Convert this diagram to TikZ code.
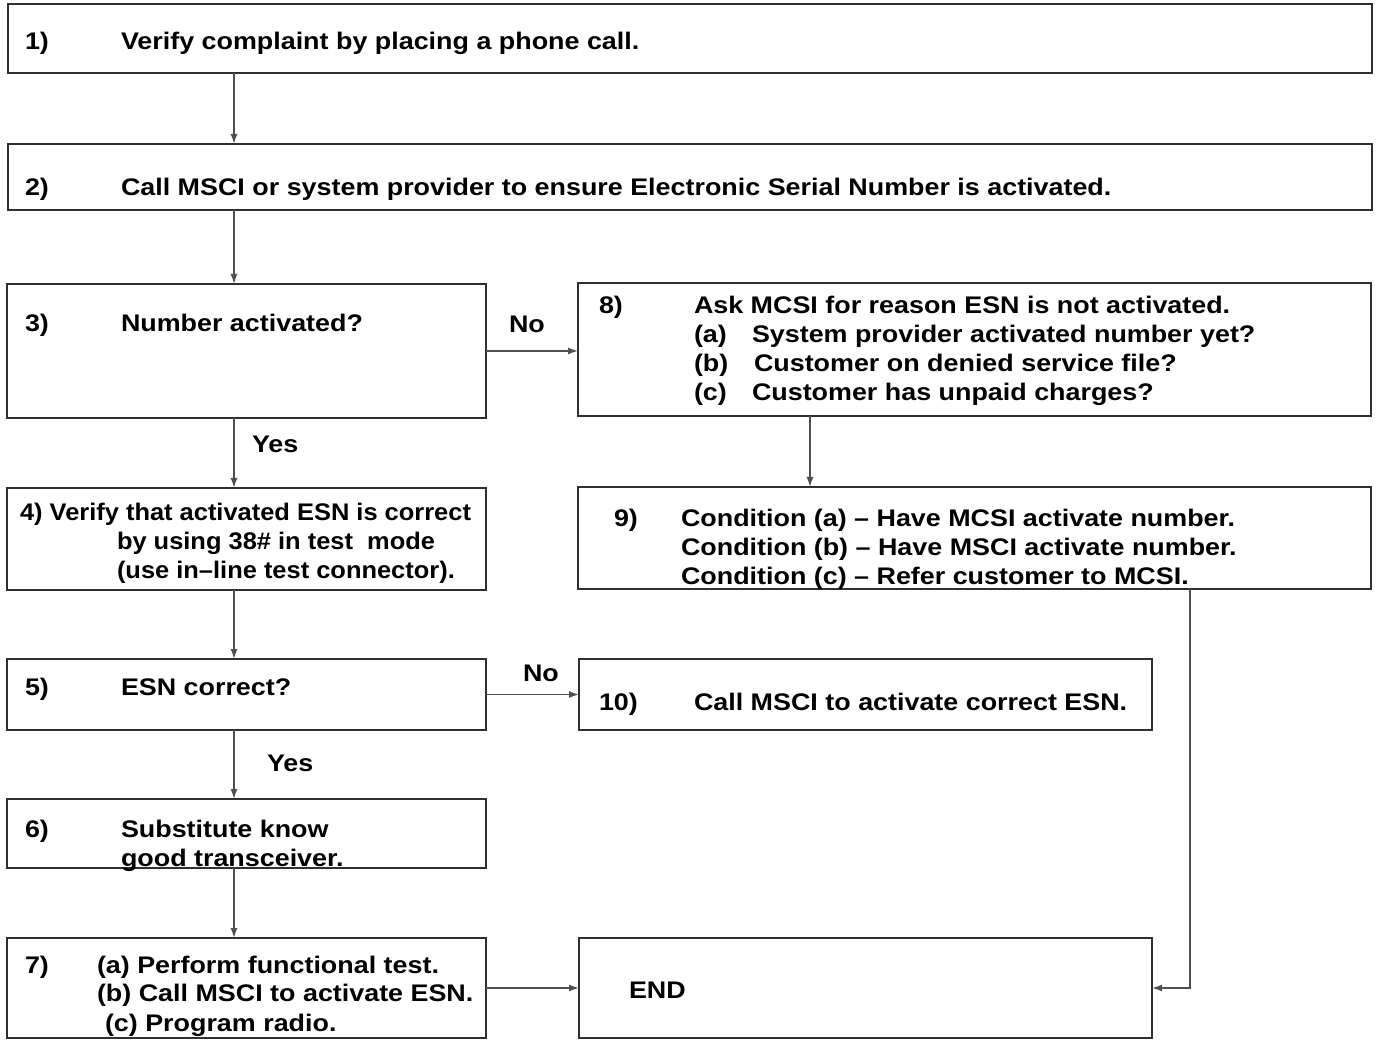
\documentclass[tikz,border=0pt]{standalone}
\usepackage{fontspec}
\setmainfont{Liberation Sans}[FakeStretch=1.12]
\newfontfamily\narrowfont{Liberation Sans}[FakeStretch=1.06]
\usetikzlibrary{arrows.meta}
\definecolor{ink}{HTML}{303030}
\definecolor{lnk}{HTML}{505050}
\tikzset{
  boxst/.style={draw=ink, line width=2pt, rectangle, inner sep=0pt, outer sep=0pt},
  txt/.style={anchor=base west, inner sep=0pt, outer sep=0pt, text=black,
    font=\bfseries\fontsize{24}{29}\selectfont},
  ntxt/.style={txt, font=\narrowfont\bfseries\fontsize{24}{29}\selectfont},
  arr/.style={draw=lnk, line width=1.4pt, -{Latex[length=10pt,width=7pt]}}
}
\newcommand\mybox[5]{\node[boxst, minimum width={(#4-#2)*1pt}, minimum height={(#5-#3)*1pt}] (#1) at ({(#2+#4)/2},{(#3+#5)/2}) {};}
\begin{document}
\begin{tikzpicture}[x=1pt,y=-1pt]
\useasboundingbox (0,0) rectangle (1377,1040);
\fill[white] (0,0) rectangle (1377,1040);
% boxes
\mybox{b1}{8}{4}{1372}{73}
\mybox{b2}{8}{144}{1372}{210}
\mybox{b3}{7}{284}{486}{418}
\mybox{b8}{578}{283}{1371}{416}
\mybox{b4}{7}{488}{486}{590}
\mybox{b9}{578}{487}{1371}{589}
\mybox{b5}{7}{659}{486}{730}
\mybox{b10}{579}{659}{1152}{730}
\mybox{b6}{7}{799}{486}{868}
\mybox{b7}{7}{938}{486}{1038}
\mybox{bend}{579}{938}{1152}{1038}
% column coordinates
\coordinate (cmain) at (234,0);
\coordinate (cright) at (810,0);
\coordinate (cfar) at (1190,0);
% texts
\node[txt] (t1n) at (25,50) {1)};
\node[txt] (t1) at (121,50) {Verify complaint by placing a phone call.};
\node[txt] (t2n) at (25,196) {2)};
\node[txt] (t2) at (121,196) {Call MSCI or system provider to ensure Electronic Serial Number is activated.};
\node[txt] (t3n) at (25,332) {3)};
\node[txt] (t3) at (121,332) {Number activated?};
\node[txt] (no1) at (509,333) {No};
\node[txt] (t8n) at (599,314) {8)};
\node[txt] (t8a) at (694,314) {Ask MCSI for reason ESN is not activated.};
\node[txt] (t8b) at (694,343) {(a)};
\node[txt] (t8bb) at (752,343) {System provider activated number yet?};
\node[txt] (t8c) at (694,372) {(b)};
\node[txt] (t8cc) at (754,372) {Customer on denied service file?};
\node[txt] (t8d) at (694,401) {(c)};
\node[txt] (t8dd) at (752,401) {Customer has unpaid charges?};
\node[txt] (yes1) at (252,453) {Yes};
\node[ntxt] (t4a) at (20,520) {4) Verify that activated ESN is correct};
\node[ntxt] (t4b) at (117,549) {by using 38\# in test\ \ mode};
\node[ntxt] (t4c) at (117,578) {(use in–line test connector).};
\node[txt] (t9n) at (614,526) {9)};
\node[txt] (t9a) at (681,526) {Condition (a) – Have MCSI activate number.};
\node[txt] (t9b) at (681,555) {Condition (b) – Have MSCI activate number.};
\node[txt] (t9c) at (681,584) {Condition (c) – Refer customer to MCSI.};
\node[txt] (t5n) at (25,695) {5)};
\node[txt] (t5) at (121,695) {ESN correct?};
\node[txt] (no2) at (523,681) {No};
\node[txt] (t10n) at (599,710) {10)};
\node[txt] (t10) at (694,710) {Call MSCI to activate correct ESN.};
\node[txt] (yes2) at (267,771) {Yes};
\node[txt] (t6n) at (25,837) {6)};
\node[txt] (t6a) at (121,837) {Substitute know};
\node[txt] (t6b) at (121,866) {good transceiver.};
\node[txt] (t7n) at (25,973) {7)};
\node[txt] (t7a) at (97,973) {(a) Perform functional test.};
\node[txt] (t7b) at (97,1001) {(b) Call MSCI to activate ESN.};
\node[txt] (t7c) at (105,1031) {(c) Program radio.};
\node[txt] (tend) at (629,998) {END};
% connectors
\draw[arr] (b1.south -| cmain) -- (b2.north -| cmain);
\draw[arr] (b2.south -| cmain) -- (b3.north -| cmain);
\draw[arr] (b3.east) -- (b3.east -| b8.west);
\draw[arr] (b8.south -| cright) -- (b9.north -| cright);
\draw[arr] (b3.south -| cmain) -- (b4.north -| cmain);
\draw[arr] (b4.south -| cmain) -- (b5.north -| cmain);
\draw[arr] (b5.east) -- (b5.east -| b10.west);
\draw[arr] (b5.south -| cmain) -- (b6.north -| cmain);
\draw[arr] (b6.south -| cmain) -- (b7.north -| cmain);
\draw[arr] (b7.east) -- (bend.west);
\draw[arr] (b9.south -| cfar) |- (bend.east);
\end{tikzpicture}
\end{document}
